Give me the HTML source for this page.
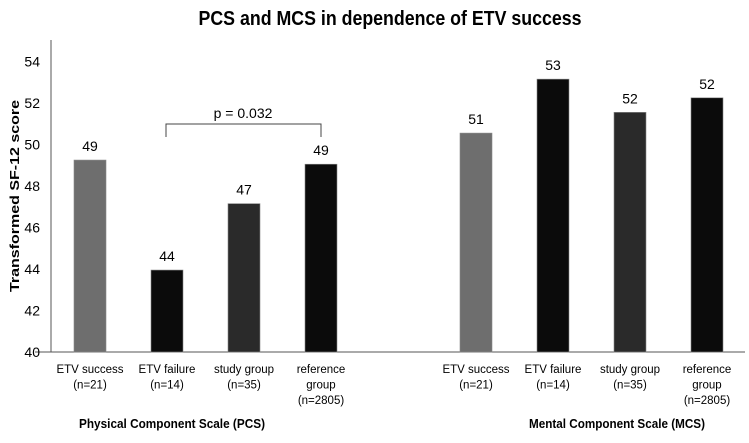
<!DOCTYPE html>
<html><head><meta charset="utf-8"><style>
body{margin:0;background:#fff;}
svg text{font-family:"Liberation Sans",sans-serif;fill:#000;}
</style></head><body>
<svg id="chart" width="749" height="438" viewBox="0 0 749 438">
<text x="390" y="25" text-anchor="middle" font-size="20" font-weight="bold" textLength="383" lengthAdjust="spacingAndGlyphs">PCS and MCS in dependence of ETV success</text>
<text transform="translate(19,196) rotate(-90)" text-anchor="middle" font-size="13" font-weight="bold" textLength="192" lengthAdjust="spacingAndGlyphs">Transformed SF-12 score</text>
<line x1="51" y1="40" x2="51" y2="352" stroke="#555" stroke-width="1"/>
<line x1="35" y1="352" x2="745" y2="352" stroke="#555" stroke-width="1"/>
<g id="ticks"></g>
<g id="bars"></g>
<path d="M166,137 V124 H321 V137" fill="none" stroke="#444" stroke-width="1"/>
<text x="243" y="118" text-anchor="middle" font-size="14">p = 0.032</text>
<text x="172" y="428" text-anchor="middle" font-size="13" font-weight="bold" textLength="186" lengthAdjust="spacingAndGlyphs">Physical Component Scale (PCS)</text>
<text x="617" y="428" text-anchor="middle" font-size="13" font-weight="bold" textLength="176" lengthAdjust="spacingAndGlyphs">Mental Component Scale (MCS)</text>
</svg>
<script>
const categories = [["ETV success","(n=21)"],["ETV failure","(n=14)"],["study group","(n=35)"],["reference","group","(n=2805)"]];
const pcsValues = [49.25, 43.95, 47.15, 49.05];
const mcsValues = [50.55, 53.15, 51.55, 52.25];
const pcsLabels = ["49","44","47","49"];
const mcsLabels = ["51","53","52","52"];
const yTicks = [40,42,44,46,48,50,52,54];
const fills = ["#6e6e6e","#0b0b0b","#2a2a2a","#0b0b0b"];
const NS="http://www.w3.org/2000/svg";
const y = v => 352 - (v-40)*20.75;
const xPos = (g,i) => (g===0?90:476) + i*77;
function mk(tag, attrs, parent, txt){const e=document.createElementNS(NS,tag);for(const k in attrs)e.setAttribute(k,attrs[k]);if(txt!==undefined)e.textContent=txt;parent.appendChild(e);return e;}
const tg=document.getElementById('ticks');
yTicks.forEach(t=>{
  const e=mk('text',{x:40,y:y(t)+5,'text-anchor':'end','font-size':14},tg,String(t));
  
  
});
const bg=document.getElementById('bars');
[pcsValues,mcsValues].forEach((vals,g)=>{
  const labs = g===0?pcsLabels:mcsLabels;
  vals.forEach((v,i)=>{
    const cx=xPos(g,i);
    const r=mk('rect',{x:cx-16,y:y(v),width:32,height:352-y(v),fill:fills[i],stroke:'#888','stroke-width':0.6},bg);
    
    
    const l=mk('text',{x:cx,y:y(v)-9,'text-anchor':'middle','font-size':14},bg,labs[i]);
    
    
    categories[i].forEach((line,k)=>{
      const c=mk('text',{x:cx,y:373+k*15.5,'text-anchor':'middle','font-size':11.5},bg,line);
      
      
    });
  });
});
</script>
</body></html>
